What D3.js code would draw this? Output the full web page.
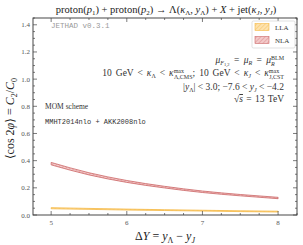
<!DOCTYPE html>
<html><head><meta charset="utf-8">
<script src="https://cdn.jsdelivr.net/npm/d3@7"></script>
<style>body{margin:0;background:#fff}svg{display:block}</style>
</head><body>
<script>
const deltaY = [5, 5.5, 6, 6.5, 7, 7.5, 8];
const nlaC = [0.378, 0.303, 0.247, 0.205, 0.171, 0.146, 0.125];
const nlaHalf = [0.009, 0.008, 0.007, 0.006, 0.0055, 0.005, 0.005];
const llaC = [0.050, 0.045, 0.040, 0.036, 0.032, 0.028, 0.025];
const llaHalf = [0.004, 0.0035, 0.0035, 0.003, 0.003, 0.003, 0.003];
const yTicks = [0.0, 0.2, 0.4, 0.6, 0.8, 1.0, 1.2, 1.4];
const xTicks = [5, 6, 7, 8];

const W = 303, H = 245;
const m = {l: 33, r: 297, t: 18, b: 215};
const svg = d3.select("body").append("svg").attr("width", W).attr("height", H);
const x = d3.scaleLinear().domain([4.76, 8.25]).range([m.l, m.r]);
const y = d3.scaleLinear().domain([0, 1.45]).range([m.b, m.t]);

const defs = svg.append("defs");
function hatch(id, bg, fg) {
  const p = defs.append("pattern").attr("id", id).attr("patternUnits", "userSpaceOnUse")
    .attr("width", 3).attr("height", 3).attr("patternTransform", "rotate(45)");
  p.append("rect").attr("width", 3).attr("height", 3).attr("fill", bg);
  p.append("line").attr("x1", 0).attr("y1", 0).attr("x2", 0).attr("y2", 3).attr("stroke", fg).attr("stroke-width", 1);
}
hatch("hN", "#f3c9c9", "#d88a8a");
hatch("hL", "#fde2ae", "#f7c35a");

const serif = "'Liberation Serif', 'DejaVu Serif', serif";
const mono = "'Liberation Mono', 'DejaVu Sans Mono', monospace";
const txtCol = "#333";

function band(c, h, fill, stroke) {
  const pts = deltaY.map((d, i) => ({x: d, lo: c[i] - h[i], hi: c[i] + h[i]}));
  const area = d3.area().x(d => x(d.x)).y0(d => y(d.lo)).y1(d => y(d.hi)).curve(d3.curveMonotoneX);
  svg.append("path").attr("d", area(pts)).attr("fill", fill).attr("stroke", stroke).attr("stroke-width", 0.8);
}
band(llaC, llaHalf, "url(#hL)", "#f5b841");
band(nlaC, nlaHalf, "url(#hN)", "#cc6666");

svg.append("rect").attr("x", m.l).attr("y", m.t).attr("width", m.r - m.l).attr("height", m.b - m.t)
  .attr("fill", "none").attr("stroke", "#333").attr("stroke-width", 0.9);

const tickCol = "#444";
d3.range(0, 1.451, 0.05).forEach(v => {
  const major = yTicks.some(t => Math.abs(t - v) < 1e-6);
  const len = major ? 4 : 2;
  svg.append("line").attr("x1", m.l).attr("x2", m.l + len).attr("y1", y(v)).attr("y2", y(v)).attr("stroke", tickCol).attr("stroke-width", 0.7);
  svg.append("line").attr("x1", m.r).attr("x2", m.r - len).attr("y1", y(v)).attr("y2", y(v)).attr("stroke", tickCol).attr("stroke-width", 0.7);
});
svg.append("g").selectAll("text").data(yTicks).join("text")
  .attr("x", m.l - 3).attr("y", d => y(d) + 2.5).attr("text-anchor", "end")
  .attr("font-family", serif).attr("font-size", 7).attr("fill", "#555").text(d => d3.format(".1f")(d));
d3.range(4.75, 8.26, 0.25).filter(v => v >= 4.76 && v <= 8.25).forEach(v => {
  const major = xTicks.some(t => Math.abs(t - v) < 1e-6);
  const len = major ? 4 : 2;
  svg.append("line").attr("x1", x(v)).attr("x2", x(v)).attr("y1", m.b).attr("y2", m.b - len).attr("stroke", tickCol).attr("stroke-width", 0.7);
  svg.append("line").attr("x1", x(v)).attr("x2", x(v)).attr("y1", m.t).attr("y2", m.t + len).attr("stroke", tickCol).attr("stroke-width", 0.7);
});
svg.append("g").selectAll("text").data(xTicks).join("text")
  .attr("x", d => x(d)).attr("y", m.b + 10).attr("text-anchor", "middle")
  .attr("font-family", serif).attr("font-size", 7).attr("fill", "#555").text(d => d);

function parts(sel, arr) {
  arr.forEach(([txt, o]) => {
    const s = sel.append("tspan").text(txt);
    if (o) Object.entries(o).forEach(([k, v]) => s.attr(k, v));
  });
  return sel;
}
const it = {"font-style": "italic"};

const title = svg.append("text").attr("x", 166).attr("y", 13).attr("text-anchor", "middle")
  .attr("font-family", serif).attr("font-size", 10.5).attr("fill", "#222");
parts(title, [["proton("], ["p", it], ["1", {"font-size": 7, dy: 2}], [") + proton(", {dy: -2}], ["p", it],
  ["2", {"font-size": 7, dy: 2}], [") → Λ(", {dy: -2}], ["κ", it], ["Λ", {"font-size": 7, dy: 2}], [", ", {dy: -2}],
  ["y", it], ["Λ", {"font-size": 7, dy: 2}], [") + ", {dy: -2}], ["X", it], [" + jet("], ["κ", it],
  ["J", {"font-size": 7, "font-style": "italic", dy: 2}], [", ", {dy: -2}], ["y", it],
  ["J", {"font-size": 7, "font-style": "italic", dy: 2}], [")", {dy: -2}]]);

svg.append("text").attr("x", 51).attr("y", 28).attr("font-family", mono).attr("font-size", 7.5)
  .attr("fill", "#999").text("JETHAD v0.3.1");

const lg = svg.append("g");
lg.append("rect").attr("x", 252).attr("y", 21).attr("width", 43).attr("height", 27).attr("fill", "#fff").attr("stroke", "#ccc").attr("stroke-width", 0.6).attr("rx", 1.5);
lg.append("rect").attr("x", 255).attr("y", 23.5).attr("width", 14).attr("height", 7).attr("fill", "url(#hL)").attr("stroke", "#f5b841").attr("stroke-width", 0.6);
lg.append("rect").attr("x", 255).attr("y", 36.5).attr("width", 14).attr("height", 7).attr("fill", "url(#hN)").attr("stroke", "#cc6666").attr("stroke-width", 0.6);
lg.append("text").attr("x", 275).attr("y", 30).attr("font-family", serif).attr("font-size", 7).attr("fill", txtCol).text("LLA");
lg.append("text").attr("x", 275).attr("y", 43).attr("font-family", serif).attr("font-size", 7).attr("fill", txtCol).text("NLA");

const ax = 284, fs = 9.5, ss = 6;
function ann(yy, ws) {
  return svg.append("text").attr("x", ax).attr("y", yy).attr("text-anchor", "end")
    .attr("font-family", serif).attr("font-size", fs).attr("fill", txtCol).attr("word-spacing", ws || 0);
}
const sub = (s, ital) => [s, Object.assign({"font-size": ss, dy: 2}, ital ? it : {})];

parts(ann(63, 2), [["μ", it], ["F", {"font-size": ss, "font-style": "italic", dy: 2}], ["1,2", {"font-size": 4.5, dy: 1}],
  [" = ", {dy: -3}], ["μ", it], sub("R", true), [" = ", {dy: -2}], ["μ", it],
  ["BLM", {"font-size": ss, dy: -3.5}], ["R", {"font-size": ss, "font-style": "italic", dx: -13, dy: 6}],
  ["\u2009\u2009\u2009\u2009\u2009\u2009\u2009", {"font-size": ss, dy: -2.5}]]);

parts(ann(76, 1.6), [["10 GeV < "], ["κ", it], sub("Λ"), [" < ", {dy: -2}], ["κ", it],
  ["max", {"font-size": ss, dy: -3.5}], ["Λ,CMS", {"font-size": ss, dx: -10, dy: 6}],
  ["; 10 GeV < ", {dy: -2.5}], ["κ", it], sub("J", true), [" < ", {dy: -2}], ["κ", it],
  ["max", {"font-size": ss, dy: -3.5}], ["J,CST", {"font-size": ss, dx: -10, dy: 6}], ["", {dy: -2.5}]]);

parts(ann(90), [["|"], ["y", it], sub("Λ"), ["| < 3.0;  −7.6 < ", {dy: -2}], ["y", it], sub("J", true), [" < −4.2", {dy: -2}]]);

parts(ann(102, 1), [["√"], ["s", Object.assign({"text-decoration": "overline"}, it)], [" = 13 TeV"]]);

svg.append("text").attr("x", 45).attr("y", 109).attr("font-family", serif).attr("font-size", 7.5).attr("fill", txtCol).text("MOM scheme");
svg.append("text").attr("x", 45).attr("y", 124).attr("font-family", mono).attr("font-size", 7).attr("fill", txtCol).text("MMHT2014nlo + AKK2008nlo");

const xl = svg.append("text").attr("x", 165).attr("y", 240).attr("text-anchor", "middle")
  .attr("font-family", serif).attr("font-size", 12).attr("fill", "#222");
parts(xl, [["Δ"], ["Y", it], [" = "], ["y", it], ["Λ", {"font-size": 8, dy: 2.5}], [" − ", {dy: -2.5}], ["y", it],
  ["J", {"font-size": 8, "font-style": "italic", dy: 2.5}]]);

const yl = svg.append("text").attr("transform", `translate(14,${(m.t + m.b) / 2 + 2}) rotate(-90)`).attr("text-anchor", "middle")
  .attr("font-family", serif).attr("font-size", 12).attr("fill", "#222");
parts(yl, [["⟨cos 2"], ["φ", it], ["⟩ = "], ["C", it], ["2", {"font-size": 8, dy: 2.5}], ["/", {dy: -2.5}], ["C", it],
  ["0", {"font-size": 8, dy: 2.5}]]);
</script>
</body></html>
